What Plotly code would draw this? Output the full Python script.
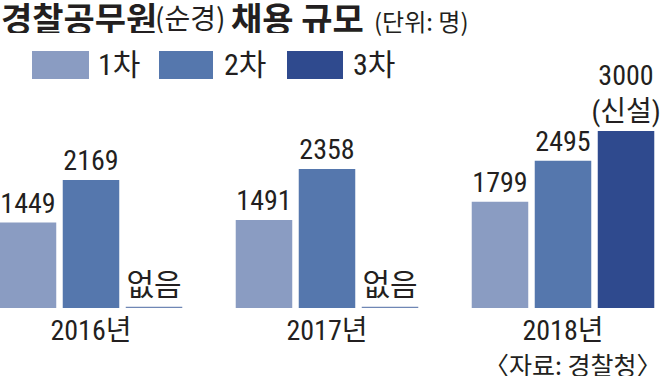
import plotly.graph_objects as go

# ---- data ----
years = ["2016년", "2017년", "2018년"]
round1 = [1449, 1491, 1799]
round2 = [2169, 2358, 2495]
round3 = [None, None, 3000]
round3_text = ["", "", "3000<br>(신설)"]
none_text = ["없음", "없음", ""]
series_names = ["1차", "2차", "3차"]

# ---- style ----
W, H = 660, 378
M_T, M_B = 100, 70
PLOT_H = H - M_T - M_B
BASE_PY = H - M_B
PX_PER_UNIT = 177 / 3000.0
COLORS = ["#8a9cc2", "#5577ad", "#2f4a8e"]
LINE_COLOR = "#6f87b5"
LINE_H = 1.2 / PX_PER_UNIT
TXT = "#231f20"
NUM_FONT = "Liberation Sans Narrow, Roboto Condensed, Arial Narrow, Noto Sans CJK KR, sans-serif"
KR_FONT = "Noto Sans CJK KR, sans-serif"


def fx(px):
    return px / W


def fy(py):
    return (BASE_PY - py) / PLOT_H


fig = go.Figure()
fig.add_trace(go.Bar(x=years, y=round1, name=series_names[0], offsetgroup="a",
                     marker=dict(color=COLORS[0], line=dict(width=0)),
                     text=[str(v) for v in round1], textposition="outside", constraintext="none",
                     textfont=dict(family=NUM_FONT, size=28, color=TXT), cliponaxis=False))
fig.add_trace(go.Bar(x=years, y=round2, name=series_names[1], offsetgroup="b",
                     marker=dict(color=COLORS[1], line=dict(width=0)),
                     text=[str(v) for v in round2], textposition="outside", constraintext="none",
                     textfont=dict(family=NUM_FONT, size=28, color=TXT), cliponaxis=False))
fig.add_trace(go.Bar(x=years, y=round3, name=series_names[2], offsetgroup="c",
                     marker=dict(color=COLORS[2], line=dict(width=0)),
                     text=round3_text, textposition="outside", constraintext="none",
                     textfont=dict(family=NUM_FONT, size=28, color=TXT), cliponaxis=False))
fig.add_trace(go.Bar(x=years, y=[LINE_H if v is None else None for v in round3],
                     offsetgroup="c", showlegend=False,
                     marker=dict(color=LINE_COLOR, line=dict(width=0)),
                     text=none_text, textposition="outside", constraintext="none",
                     textfont=dict(family=KR_FONT, size=30, color=TXT), cliponaxis=False))

x0 = -91 / 236.0
fig.update_layout(
    width=W, height=H,
    margin=dict(l=0, r=0, t=M_T, b=M_B, pad=0),
    paper_bgcolor="white", plot_bgcolor="white",
    barmode="group", bargap=0.199, bargroupgap=0.103,
    showlegend=False,
    xaxis=dict(range=[x0, x0 + W / 236.0], showgrid=False, zeroline=False, showline=False,
               ticks="", tickfont=dict(family=NUM_FONT, size=28, color=TXT),
               ticklabelstandoff=3, fixedrange=True),
    yaxis=dict(range=[0, PLOT_H / PX_PER_UNIT], visible=False, fixedrange=True),
)

shapes = []
annos = []


def add_text(text, px, py, size, xanchor="left", bold=False, family=KR_FONT, box_h=None):
    a = dict(xref="paper", yref="paper", x=fx(px), y=fy(py), xanchor=xanchor,
             yanchor="middle", showarrow=False, text=text, valign="middle",
             font=dict(family=family, size=size, color=TXT, weight=700 if bold else 400))
    if box_h:
        a["height"] = box_h
    annos.append(a)


# title pieces
add_text("경찰공무원", -1, 17, 34, bold=True, box_h=32)
add_text("(순경)", 153, 17, 28, box_h=32)
add_text("채용 규모", 229, 17, 34, bold=True, box_h=32)
add_text("(단위: 명)", 372, 20, 24, box_h=32)

# legend
leg_boxes = [(32, 89), (159, 213), (287, 343)]
leg_text_x = [96, 222, 351]
for i, name in enumerate(series_names):
    bx0, bx1 = leg_boxes[i]
    shapes.append(dict(type="rect", xref="paper", yref="paper", x0=fx(bx0), x1=fx(bx1),
                       y0=fy(79), y1=fy(51), fillcolor=COLORS[i], line=dict(width=0)))
    add_text(name, leg_text_x[i], 65, 30, family=NUM_FONT)

# source
add_text("〈자료: 경찰청〉", 664, 364, 25, xanchor="right", box_h=24)
fig.update_layout(shapes=shapes, annotations=annos)

fig.write_html("out.html", config={"displayModeBar": False, "staticPlot": True},
               post_script="document.body.style.margin='0';document.body.style.overflow='hidden';")
